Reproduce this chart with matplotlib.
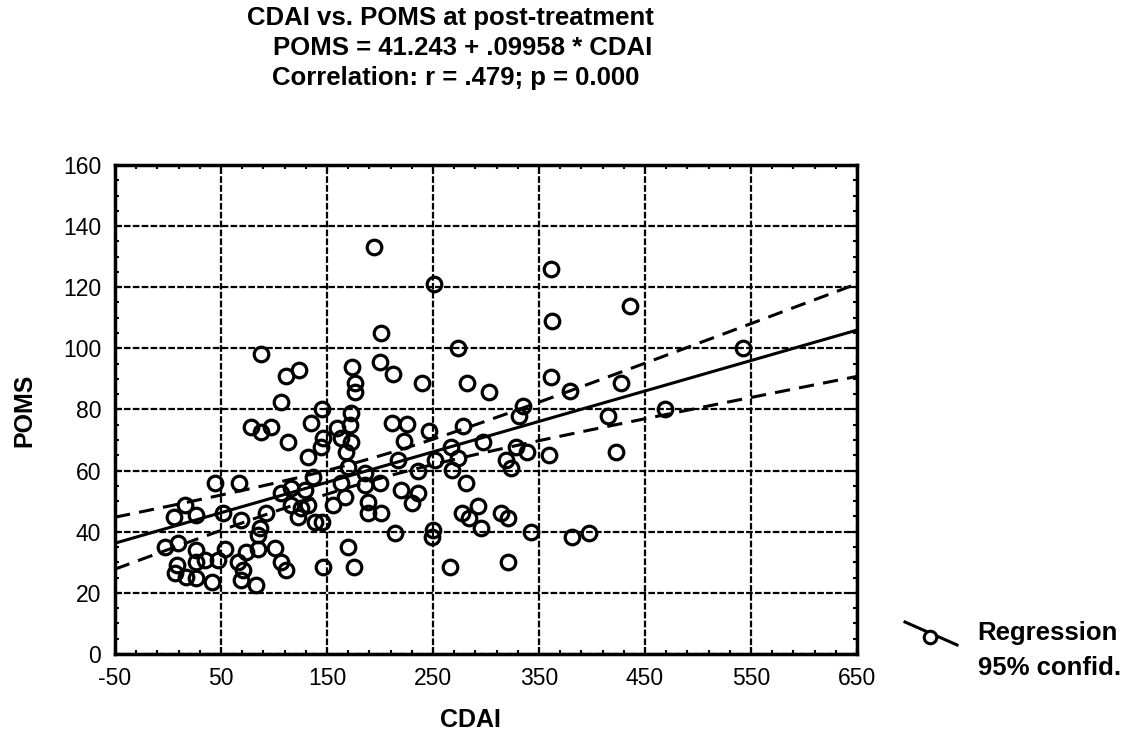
import numpy as np
import matplotlib
matplotlib.use('Agg')
import matplotlib.pyplot as plt
from matplotlib.lines import Line2D

plt.rcParams['font.family'] = ['Liberation Sans', 'DejaVu Sans']
plt.rcParams['axes.unicode_minus'] = False

# data (CDAI, POMS)
cdai = [194, 251, 361, 436, 362, 201, 274, 542, 88, 174, 200, 212, 111, 124,
        176, 176, 240, 282, 303, 361, 379, 427, 335, 331, 415, 469, 423, 359,
        107, 145, 173, 78, 88, 97, 113, 132, 135, 159, 172, 146, 144, 163, 173,
        168, 211, 225, 223, 246, 278, 297, 267, 274, 252, 268, 236, 217, 170,
        186, 200, 186, 163, 167, 156, 189, 189, 201, 220, 236, 230, 281, 277,
        284, 292, 295, 314, 321, 319, 324, 328, 339, 342, 381, 397, 214, 250,
        249, 145, 170, 175, 146, 266, 321, 44, 67, 16, 6, 26, 52, 69, 92, 87,
        85, 107, 116, 129, 137, 116, 125, 132, 139, -3, 9, 26, 35, 26, 54, 47,
        74, 85, 101, 66, 107, 111, 8, 7, 17, 26, 41, 71, 69, 83, 123]
poms = [133, 121, 126, 114, 109, 105, 100, 100, 98, 94, 95.5, 91.6, 91, 93,
        88.7, 85.7, 88.7, 88.7, 85.7, 90.6, 86, 88.7, 81, 78, 77.9, 80, 66, 65,
        82.5, 80, 79, 74.3, 72.6, 74.3, 69.4, 64.5, 75.6, 74, 75, 70.7, 67.7,
        70.7, 69.4, 66, 75.6, 75.3, 69.7, 73, 74.6, 69.4, 67.7, 64, 63.5, 60.2,
        60, 63.5, 61.2, 59.2, 56, 55.3, 56, 51.4, 48.8, 49.7, 46.1, 46.1, 53.7,
        52.7, 49.4, 56, 46, 44.5, 48.4, 41.2, 46, 44.5, 63.5, 60.9, 67.7, 66,
        40, 38.3, 39.6, 39.6, 40.6, 38.3, 43.2, 35, 28.5, 28.5, 28.5, 30, 56,
        56, 48.8, 44.8, 45.5, 46.1, 44, 46.1, 41.2, 38.9, 52.7, 54.3, 53.7,
        57.9, 48.8, 47.8, 48.8, 43.2, 35, 36.3, 34, 30.8, 30.1, 34.4, 30.8,
        33.4, 34.4, 34.7, 30.1, 30.1, 27.5, 29.1, 26.5, 25.2, 24.9, 23.6, 27.5,
        24.2, 22.6, 44.8]

intercept = 41.243
slope = 0.09958
x_ticks = [-50, 50, 150, 250, 350, 450, 550, 650]
y_ticks = [0, 20, 40, 60, 80, 100, 120, 140, 160]

x = np.array(cdai, dtype=float)
y = np.array(poms, dtype=float)
n = len(x)
xs = np.linspace(-50, 650, 200)
fit = intercept + slope * xs
resid = y - (intercept + slope * x)
mse = np.sum(resid ** 2) / (n - 2)
sxx = np.sum((x - x.mean()) ** 2)
half = 1.98 * np.sqrt(mse * (1.0 / n + (xs - x.mean()) ** 2 / sxx))

fig = plt.figure(figsize=(11.29, 7.41), dpi=100)
ax = fig.add_axes([0.1019, 0.1174, 0.6572, 0.6600])

ax.grid(True, color='black', linestyle=(0, (3, 1)), lw=1.6)
ax.set_axisbelow(True)
ax.plot(xs, fit, color='black', lw=2.2, zorder=3)
ax.plot(xs, fit + half, color='black', lw=2.2, ls=(0, (5, 3)), zorder=3)
ax.plot(xs, fit - half, color='black', lw=2.2, ls=(0, (5, 3)), zorder=3)
ax.plot(x, y, 'o', mfc='none', mec='black', ms=10.5, mew=2.3, zorder=4)

ax.set_xlim(-50, 650)
ax.set_ylim(0, 160)
ax.set_xticks(x_ticks)
ax.set_yticks(y_ticks)
ax.set_xticks(np.arange(-50, 651, 20), minor=True)
ax.set_yticks(np.arange(0, 161, 5), minor=True)
ax.tick_params(which='both', direction='in', top=True, right=True, width=1.5)
ax.tick_params(which='major', length=5, labelsize=16.5)
ax.tick_params(axis='x', which='major', pad=9)
ax.tick_params(axis='y', which='major', pad=10)
ax.tick_params(which='minor', length=3)
for s in ax.spines.values():
    s.set_linewidth(2.5)

fig.text(0.022, 0.4467, 'POMS', rotation=90, ha='center', va='center',
         fontsize=18, fontweight='bold')
fig.text(0.4163, 0.0283, 'CDAI', ha='center', va='center',
         fontsize=18, fontweight='bold')

fig.text(0.3986, 0.9757, 'CDAI vs. POMS at post-treatment', ha='center',
         va='center', fontsize=18.5, fontweight='bold')
fig.text(0.410, 0.935, 'POMS = 41.243 + .09958 * CDAI', ha='center',
         va='center', fontsize=18.5, fontweight='bold')
fig.text(0.404, 0.8947, 'Correlation: r = .479; p = 0.000', ha='center',
         va='center', fontsize=18.5, fontweight='bold')

# legend glyph
fig.add_artist(Line2D([0.8016, 0.8477], [0.1606, 0.1296], color='black', lw=2.2,
                      transform=fig.transFigure))
fig.add_artist(Line2D([0.8237], [0.1406], marker='o', mfc='white', mec='black',
                      ms=9, mew=2.2, transform=fig.transFigure))
fig.text(0.866, 0.1457, 'Regression', ha='left', va='center', fontsize=18.5,
         fontweight='bold')
fig.text(0.866, 0.0985, '95% confid.', ha='left', va='center', fontsize=18.5,
         fontweight='bold')

plt.savefig('out.png', dpi=100)
